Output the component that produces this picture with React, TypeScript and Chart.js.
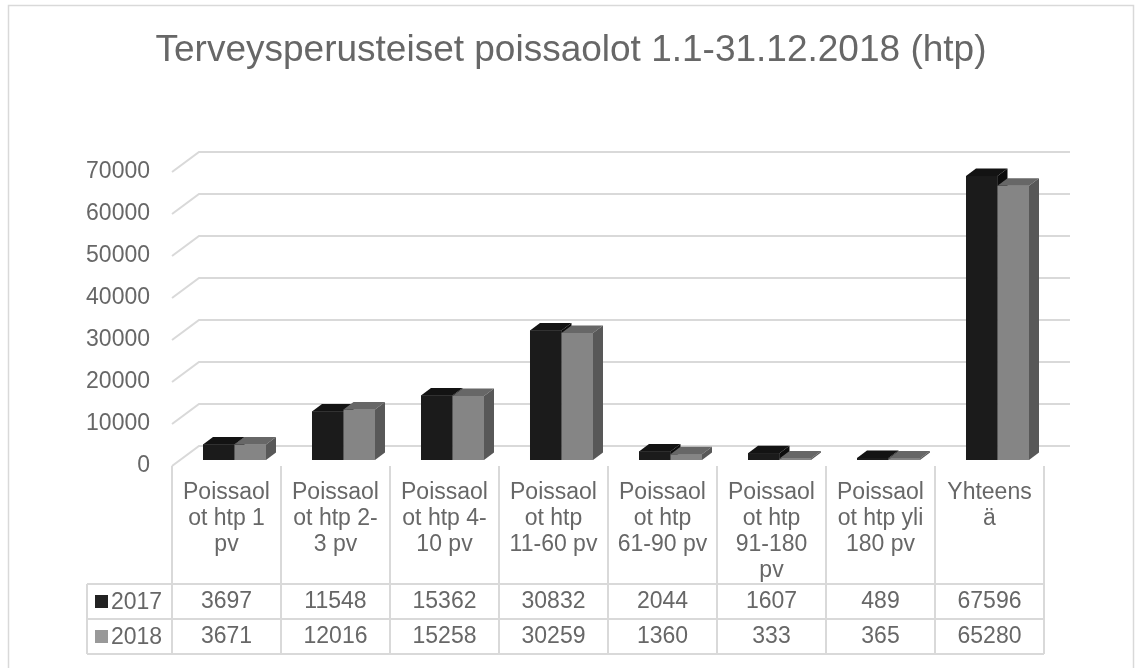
import React, { useEffect, useRef } from "react";
import { Chart, registerables } from "chart.js";

Chart.register(...registerables);

const chartTitle = "Terveysperusteiset poissaolot 1.1-31.12.2018 (htp)";
const categories = [
  "Poissaolot htp 1 pv",
  "Poissaolot htp 2-3 pv",
  "Poissaolot htp 4-10 pv",
  "Poissaolot htp 11-60 pv",
  "Poissaolot htp 61-90 pv",
  "Poissaolot htp 91-180 pv",
  "Poissaolot htp yli 180 pv",
  "Yhteensä",
];
const categoryLines = [
  ["Poissaol", "ot htp 1", "pv"],
  ["Poissaol", "ot htp 2-", "3 pv"],
  ["Poissaol", "ot htp 4-", "10 pv"],
  ["Poissaol", "ot htp", "11-60 pv"],
  ["Poissaol", "ot htp", "61-90 pv"],
  ["Poissaol", "ot htp", "91-180", "pv"],
  ["Poissaol", "ot htp yli", "180 pv"],
  ["Yhteens", "ä"],
];
const seriesNames = ["2017", "2018"];
const values2017 = [3697, 11548, 15362, 30832, 2044, 1607, 489, 67596];
const values2018 = [3671, 12016, 15258, 30259, 1360, 333, 365, 65280];
const yTicks = [0, 10000, 20000, 30000, 40000, 50000, 60000, 70000];

const FONT = '"Liberation Sans", Arial, sans-serif';
const TEXT = "#676767";
const GRID = "#d9d9d9";
const frontColors = ["#1b1b1b", "#858585"];
const topColors = ["#131313", "#676767"];
const sideColors = ["#0c0c0c", "#585858"];
const legendColors = ["#222222", "#999999"];

const BAR_DX = 10;
const BAR_DY = -7.5;
const WALL_DX = 27;
const WALL_DY = -20;
const FRONT_OFF = 6;
const COL_SHIFT = 8;

const deco = {
  id: "deco",
  beforeDraw(chart: any) {
    const ctx = chart.ctx;
    ctx.save();
    ctx.fillStyle = "#ffffff";
    ctx.fillRect(0, 0, chart.width, chart.height);
    ctx.strokeStyle = GRID;
    ctx.lineWidth = 1.5;
    ctx.strokeRect(8.5, 5.5, 1125, 700);
    ctx.fillStyle = TEXT;
    ctx.font = `37px ${FONT}`;
    ctx.textAlign = "center";
    ctx.textBaseline = "alphabetic";
    ctx.fillText(chartTitle, 571, 61);
    ctx.restore();
  },
  beforeDatasetsDraw(chart: any) {
    const ctx = chart.ctx;
    const xs = chart.scales.x;
    const ys = chart.scales.y;
    const fx = xs.left - COL_SHIFT;
    ctx.save();
    ctx.strokeStyle = GRID;
    ctx.lineWidth = 2;
    for (const t of yTicks) {
      const py = ys.getPixelForValue(t) + FRONT_OFF;
      ctx.beginPath();
      ctx.moveTo(fx, py);
      ctx.lineTo(fx + WALL_DX, py + WALL_DY);
      ctx.lineTo(xs.right + 18, py + WALL_DY);
      ctx.stroke();
    }
    ctx.restore();
  },
  afterDatasetsDraw(chart: any) {
    const ctx = chart.ctx;
    const metas = [chart.getDatasetMeta(0), chart.getDatasetMeta(1)];
    ctx.save();
    for (let i = 0; i < categories.length; i++) {
      for (let d = 0; d < metas.length; d++) {
        const el: any = metas[d].data[i];
        const w = el.width;
        const l = el.x - w / 2;
        const r = el.x + w / 2;
        const top = el.y;
        const base = el.base;
        ctx.fillStyle = frontColors[d];
        ctx.fillRect(l, top, w, base - top);
        ctx.fillStyle = topColors[d];
        ctx.beginPath();
        ctx.moveTo(l, top);
        ctx.lineTo(r, top);
        ctx.lineTo(r + BAR_DX, top + BAR_DY);
        ctx.lineTo(l + BAR_DX, top + BAR_DY);
        ctx.closePath();
        ctx.fill();
        ctx.fillStyle = sideColors[d];
        ctx.beginPath();
        ctx.moveTo(r, top);
        ctx.lineTo(r + BAR_DX, top + BAR_DY);
        ctx.lineTo(r + BAR_DX, base + BAR_DY);
        ctx.lineTo(r, base);
        ctx.closePath();
        ctx.fill();
      }
    }
    ctx.restore();
  },
  afterDraw(chart: any) {
    const ctx = chart.ctx;
    const xs = chart.scales.x;
    const ys = chart.scales.y;
    const n = categories.length;
    const colW = xs.width / n;
    const tableTop = ys.getPixelForValue(0) + FRONT_OFF;
    const row1 = 584;
    const row2 = 619;
    const row3 = 654;
    const leftEdge = 87;
    const firstEdge = xs.left - COL_SHIFT;
    const lastEdge = firstEdge + colW * n;
    ctx.save();
    ctx.strokeStyle = GRID;
    ctx.lineWidth = 2;
    ctx.beginPath();
    for (let i = 0; i <= n; i++) {
      const x = firstEdge + colW * i;
      ctx.moveTo(x, tableTop);
      ctx.lineTo(x, row3);
    }
    ctx.moveTo(leftEdge, row1);
    ctx.lineTo(leftEdge, row3);
    for (const ry of [row1, row2, row3]) {
      ctx.moveTo(leftEdge, ry);
      ctx.lineTo(lastEdge, ry);
    }
    ctx.stroke();

    ctx.fillStyle = TEXT;
    ctx.font = `23px ${FONT}`;
    ctx.textAlign = "center";
    ctx.textBaseline = "middle";
    for (let i = 0; i < n; i++) {
      const cx = xs.getPixelForValue(i) - COL_SHIFT;
      categoryLines[i].forEach((line, k) => {
        ctx.fillText(line, cx, 493 + k * 26);
      });
      ctx.fillText(String(values2017[i]), cx, (row1 + row2) / 2);
      ctx.fillText(String(values2018[i]), cx, (row2 + row3) / 2);
    }
    const rows = [(row1 + row2) / 2, (row2 + row3) / 2];
    ctx.textAlign = "left";
    seriesNames.forEach((s, k) => {
      ctx.fillStyle = legendColors[k];
      ctx.fillRect(95, rows[k] - 6.5, 13, 13);
      ctx.fillStyle = TEXT;
      ctx.fillText(s, 111, rows[k] + 1);
    });
    ctx.restore();
  },
};

export default function App() {
  const ref = useRef<HTMLCanvasElement | null>(null);
  useEffect(() => {
    if (!ref.current) return;
    const chart = new Chart(ref.current, {
      type: "bar",
      data: {
        labels: categories,
        datasets: [
          { label: seriesNames[0], data: values2017, backgroundColor: frontColors[0], borderWidth: 0 },
          { label: seriesNames[1], data: values2018, backgroundColor: frontColors[1], borderWidth: 0 },
        ],
      },
      options: {
        responsive: false,
        animation: false,
        devicePixelRatio: 1,
        layout: { padding: { top: 166, bottom: 208, left: 0, right: 87 } },
        categoryPercentage: 0.578,
        barPercentage: 1,
        plugins: {
          legend: { display: false },
          title: { display: false },
          tooltip: { enabled: false },
        },
        scales: {
          x: { display: false },
          y: {
            min: 0,
            max: 70000,
            afterFit: (s: any) => {
              s.width = 180;
            },
            afterBuildTicks: (s: any) => {
              s.ticks = yTicks.map((v) => ({ value: v }));
            },
            grid: { display: false, drawTicks: false },
            border: { display: false },
            ticks: {
              padding: 30,
              labelOffset: FRONT_OFF,
              color: TEXT,
              font: { family: FONT, size: 23 },
              callback: (v: any) => String(v),
            },
          },
        },
      },
      plugins: [deco],
    } as any);
    return () => chart.destroy();
  }, []);
  return (
    <div style={{ position: "absolute", left: 0, top: 0, width: 1139, height: 668, background: "#fff" }}>
      <canvas ref={ref} width={1139} height={668} style={{ display: "block" }} />
    </div>
  );
}
